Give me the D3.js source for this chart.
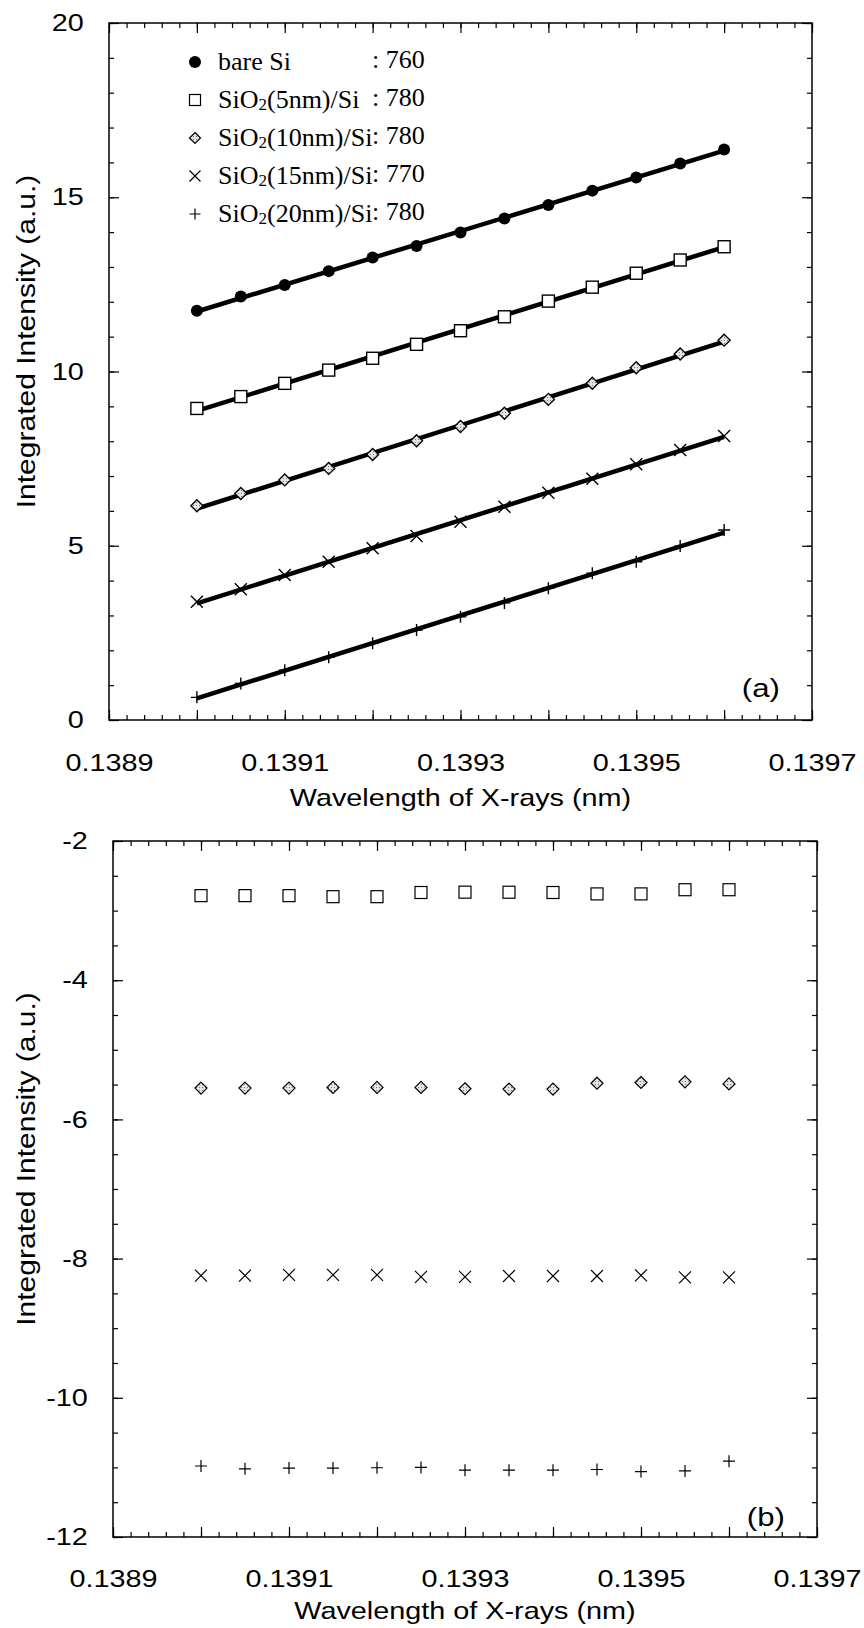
<!DOCTYPE html>
<html>
<head>
<meta charset="utf-8">
<script src="https://cdn.jsdelivr.net/npm/d3@7"></script>
<style>
  html, body { margin: 0; padding: 0; background: #fff; }
  svg { display: block; }
  .tick text { font-family: "Liberation Sans", Arial, sans-serif; font-size: 24px; fill: #000; }
  .domain { display: none; }
  .tick line { stroke: #000; stroke-width: 1.2; }
</style>
</head>
<body>
<svg id="chart" width="864" height="1628"></svg>
<script>
// ---------- data ----------
const wavelengths = [0.13900, 0.13905, 0.13910, 0.13915, 0.13920, 0.13925, 0.13930,
                     0.13935, 0.13940, 0.13945, 0.13950, 0.13955, 0.13960];

// panel (a): integrated intensity
const bareSiA  = [11.74, 12.15, 12.48, 12.88, 13.27, 13.60, 13.99, 14.39, 14.78, 15.19, 15.57, 15.97, 16.37];
const sio2_5A  = [8.94, 9.28, 9.66, 10.04, 10.38, 10.78, 11.17, 11.57, 12.02, 12.42, 12.82, 13.20, 13.58];
const sio2_10A = [6.15, 6.50, 6.89, 7.22, 7.62, 8.01, 8.42, 8.80, 9.20, 9.66, 10.11, 10.50, 10.90];
const sio2_15A = [3.39, 3.75, 4.16, 4.54, 4.93, 5.28, 5.69, 6.12, 6.52, 6.92, 7.34, 7.75, 8.15];
const sio2_20A = [0.65, 1.05, 1.43, 1.80, 2.20, 2.58, 2.96, 3.36, 3.78, 4.21, 4.54, 4.99, 5.45];

// panel (b)
const sio2_5B  = [-2.785, -2.785, -2.785, -2.80, -2.80, -2.74, -2.735, -2.736, -2.74, -2.76, -2.76, -2.70, -2.70];
const sio2_10B = [-5.55, -5.55, -5.55, -5.54, -5.54, -5.54, -5.56, -5.565, -5.565, -5.48, -5.47, -5.46, -5.49];
const sio2_15B = [-8.244, -8.244, -8.234, -8.234, -8.234, -8.263, -8.263, -8.25, -8.25, -8.25, -8.24, -8.27, -8.27];
const sio2_20B = [-10.98, -11.02, -11.01, -11.01, -11.005, -11.0, -11.04, -11.04, -11.04, -11.03, -11.06, -11.05, -10.91];

// legend
const legendNames  = ["bare Si", "SiO2(5nm)/Si", "SiO2(10nm)/Si", "SiO2(15nm)/Si", "SiO2(20nm)/Si"];
const legendValues = [": 760", ": 780", ": 780", ": 770", ": 780"];
const symbolsA = ["circle", "square", "diamond", "cross", "plus"];

// ticks
const xDomain = [0.1389, 0.1397];
const xMajorTicks = [0.1389, 0.1390, 0.1391, 0.1392, 0.1393, 0.1394, 0.1395, 0.1396, 0.1397];
const xLabelTicks = ["0.1389", "0.1391", "0.1393", "0.1395", "0.1397"];
const yDomainA = [0, 20];
const yMajorTicksA = [0, 5, 10, 15, 20];
const yDomainB = [-12, -2];
const yMajorTicksB = [-12, -10, -8, -6, -4, -2];

const xTitle = "Wavelength of X-rays (nm)";
const yTitle = "Integrated Intensity (a.u.)";

// ---------- drawing ----------
const svg = d3.select("#chart");
const fontSans = '"Liberation Sans", Arial, sans-serif';
const fontSerif = '"Liberation Serif", "Times New Roman", serif';
const SX = 1.2;   // the original's sans labels are wider than Arial

// halftone-like fill for the diamonds
const defs = svg.append("defs");
const pat = defs.append("pattern").attr("id", "halftone").attr("patternUnits", "userSpaceOnUse")
  .attr("width", 3).attr("height", 3);
pat.append("rect").attr("width", 3).attr("height", 3).attr("fill", "#e4e4e4");
pat.append("rect").attr("x", 1).attr("y", 1).attr("width", 1).attr("height", 1).attr("fill", "#777");

function drawMarker(g, type, x, y, s, sw) {
  const h = s / 2;
  const w = sw || 1.3;
  if (type === "circle") {
    g.append("circle").attr("cx", x).attr("cy", y).attr("r", h).attr("fill", "#000");
  } else if (type === "square") {
    g.append("rect").attr("x", x - h).attr("y", y - h).attr("width", s).attr("height", s)
      .attr("fill", "#fff").attr("stroke", "#000").attr("stroke-width", w);
  } else if (type === "diamond") {
    g.append("path").attr("d", `M${x},${y - h}L${x + h},${y}L${x},${y + h}L${x - h},${y}Z`)
      .attr("fill", "url(#halftone)").attr("stroke", "#000").attr("stroke-width", w);
  } else if (type === "cross") {
    g.append("path").attr("d", `M${x - h},${y - h}L${x + h},${y + h}M${x - h},${y + h}L${x + h},${y - h}`)
      .attr("stroke", "#000").attr("stroke-width", w).attr("fill", "none");
  } else if (type === "plus") {
    g.append("path").attr("d", `M${x - h},${y}L${x + h},${y}M${x},${y - h}L${x},${y + h}`)
      .attr("stroke", "#000").attr("stroke-width", w).attr("fill", "none");
  }
}

function linFit(xs, ys) {
  const mx = d3.mean(xs), my = d3.mean(ys);
  let num = 0, den = 0;
  xs.forEach((x, i) => { num += (x - mx) * (ys[i] - my); den += (x - mx) * (x - mx); });
  const b = num / den;
  return x => my + b * (x - mx);
}

function wideText(parent, x, y, txt, size, anchor, rotate) {
  const g = parent.append("g")
    .attr("transform", `translate(${x},${y})${rotate ? " rotate(" + rotate + ")" : ""} scale(${SX},1)`);
  g.append("text").attr("x", 0).attr("y", 0).attr("text-anchor", anchor)
    .attr("font-family", fontSans).attr("font-size", size).text(txt);
  return g;
}

function drawPanel(cfg) {
  const { left, right, top, bottom, yDomain, yMajor, yMinorStep, series, fit, label, labelY, xTitleDy, xPad, markerStroke } = cfg;
  const x = d3.scaleLinear().domain(xDomain).range([left, right]);
  const y = d3.scaleLinear().domain(yDomain).range([bottom, top]);
  const g = svg.append("g");

  const xMinor = d3.range(0, 41).map(i => +(xDomain[0] + i * 0.00002).toFixed(5));
  const yMinor = d3.range(yDomain[0], yDomain[1] + 1e-9, yMinorStep);
  const fmtX = d => { const s = d.toFixed(4); return xLabelTicks.includes(s) ? s : ""; };
  const fmtY = d => String(d);   // plain hyphen-minus as in the original

  // minor ticks
  g.append("g").attr("transform", `translate(0,${bottom})`)
    .call(d3.axisBottom(x).tickValues(xMinor).tickSize(-5).tickFormat(""));
  g.append("g").attr("transform", `translate(0,${top})`)
    .call(d3.axisTop(x).tickValues(xMinor).tickSize(-5).tickFormat(""));
  g.append("g").attr("transform", `translate(${left},0)`)
    .call(d3.axisLeft(y).tickValues(yMinor).tickSize(-5).tickFormat(""));
  g.append("g").attr("transform", `translate(${right},0)`)
    .call(d3.axisRight(y).tickValues(yMinor).tickSize(-5).tickFormat(""));
  // major ticks
  g.append("g").attr("transform", `translate(0,${bottom})`)
    .call(d3.axisBottom(x).tickValues(xMajorTicks).tickSize(-10).tickPadding(xPad).tickFormat(fmtX))
    .selectAll(".tick text").attr("transform", `scale(${SX},1)`);
  g.append("g").attr("transform", `translate(0,${top})`)
    .call(d3.axisTop(x).tickValues(xMajorTicks).tickSize(-10).tickFormat(""));
  g.append("g").attr("transform", `translate(${left},0)`)
    .call(d3.axisLeft(y).tickValues(yMajor).tickSize(-10).tickPadding(21).tickFormat(fmtY))
    .selectAll(".tick text").attr("transform", `scale(${SX},1)`);
  g.append("g").attr("transform", `translate(${right},0)`)
    .call(d3.axisRight(y).tickValues(yMajor).tickSize(-10).tickFormat(""));

  // frame
  g.append("rect").attr("x", left).attr("y", top).attr("width", right - left).attr("height", bottom - top)
    .attr("fill", "none").attr("stroke", "#000").attr("stroke-width", 1.5);

  // series
  series.forEach(s => {
    if (fit) {
      const f = linFit(wavelengths, s.values);
      const ends = [wavelengths[0], wavelengths[wavelengths.length - 1]];
      g.append("path")
        .attr("d", d3.line().x(d => x(d)).y(d => y(f(d)))(ends))
        .attr("fill", "none").attr("stroke", "#000").attr("stroke-width", 4.5);
    }
    wavelengths.forEach((w, i) => drawMarker(g, s.symbol, x(w), y(s.values[i]), 12, markerStroke));
  });

  // panel label
  wideText(g, right - 32, labelY, label, 26, "end");

  // axis titles
  wideText(g, (left + right) / 2, bottom + xTitleDy, xTitle, 24, "middle");
  wideText(g, 35, (top + bottom) / 2 - 30, yTitle, 25, "middle", -90);
  return { x, y, g };
}

drawPanel({
  left: 109, right: 812, top: 23, bottom: 720,
  yDomain: yDomainA, yMajor: yMajorTicksA, yMinorStep: 1,
  series: [
    { values: bareSiA, symbol: "circle" },
    { values: sio2_5A, symbol: "square" },
    { values: sio2_10A, symbol: "diamond" },
    { values: sio2_15A, symbol: "cross" },
    { values: sio2_20A, symbol: "plus" }
  ],
  fit: true, label: "(a)", labelY: 697, xTitleDy: 86, xPad: 34, markerStroke: 1.4
});

drawPanel({
  left: 113, right: 817, top: 841, bottom: 1537,
  yDomain: yDomainB, yMajor: yMajorTicksB, yMinorStep: 0.5,
  series: [
    { values: sio2_5B, symbol: "square" },
    { values: sio2_10B, symbol: "diamond" },
    { values: sio2_15B, symbol: "cross" },
    { values: sio2_20B, symbol: "plus" }
  ],
  fit: false, label: "(b)", labelY: 1526, xTitleDy: 82, xPad: 33, markerStroke: 1.2
});

// legend (panel a)
const legend = svg.append("g");
const rowY = d3.scaleLinear().domain([0, 4]).range([62, 214]);
legendNames.forEach((name, i) => {
  const cy = rowY(i);
  drawMarker(legend, symbolsA[i], 195, cy, i === 0 ? 12 : 11, 1.2);
  const t = legend.append("text").attr("x", 218).attr("y", cy + 8)
    .attr("font-family", fontSerif).attr("font-size", 26);
  const m = name.match(/^(SiO)2(.*)$/);
  if (m) {
    t.append("tspan").text(m[1]);
    t.append("tspan").attr("font-size", 17).attr("dy", 2).text("2");
    t.append("tspan").attr("dy", -2).text(m[2]);
  } else {
    t.text(name);
  }
  legend.append("text").attr("x", 372).attr("y", cy + 6)
    .attr("font-family", fontSerif).attr("font-size", 26).text(legendValues[i]);
});
</script>
</body>
</html>
